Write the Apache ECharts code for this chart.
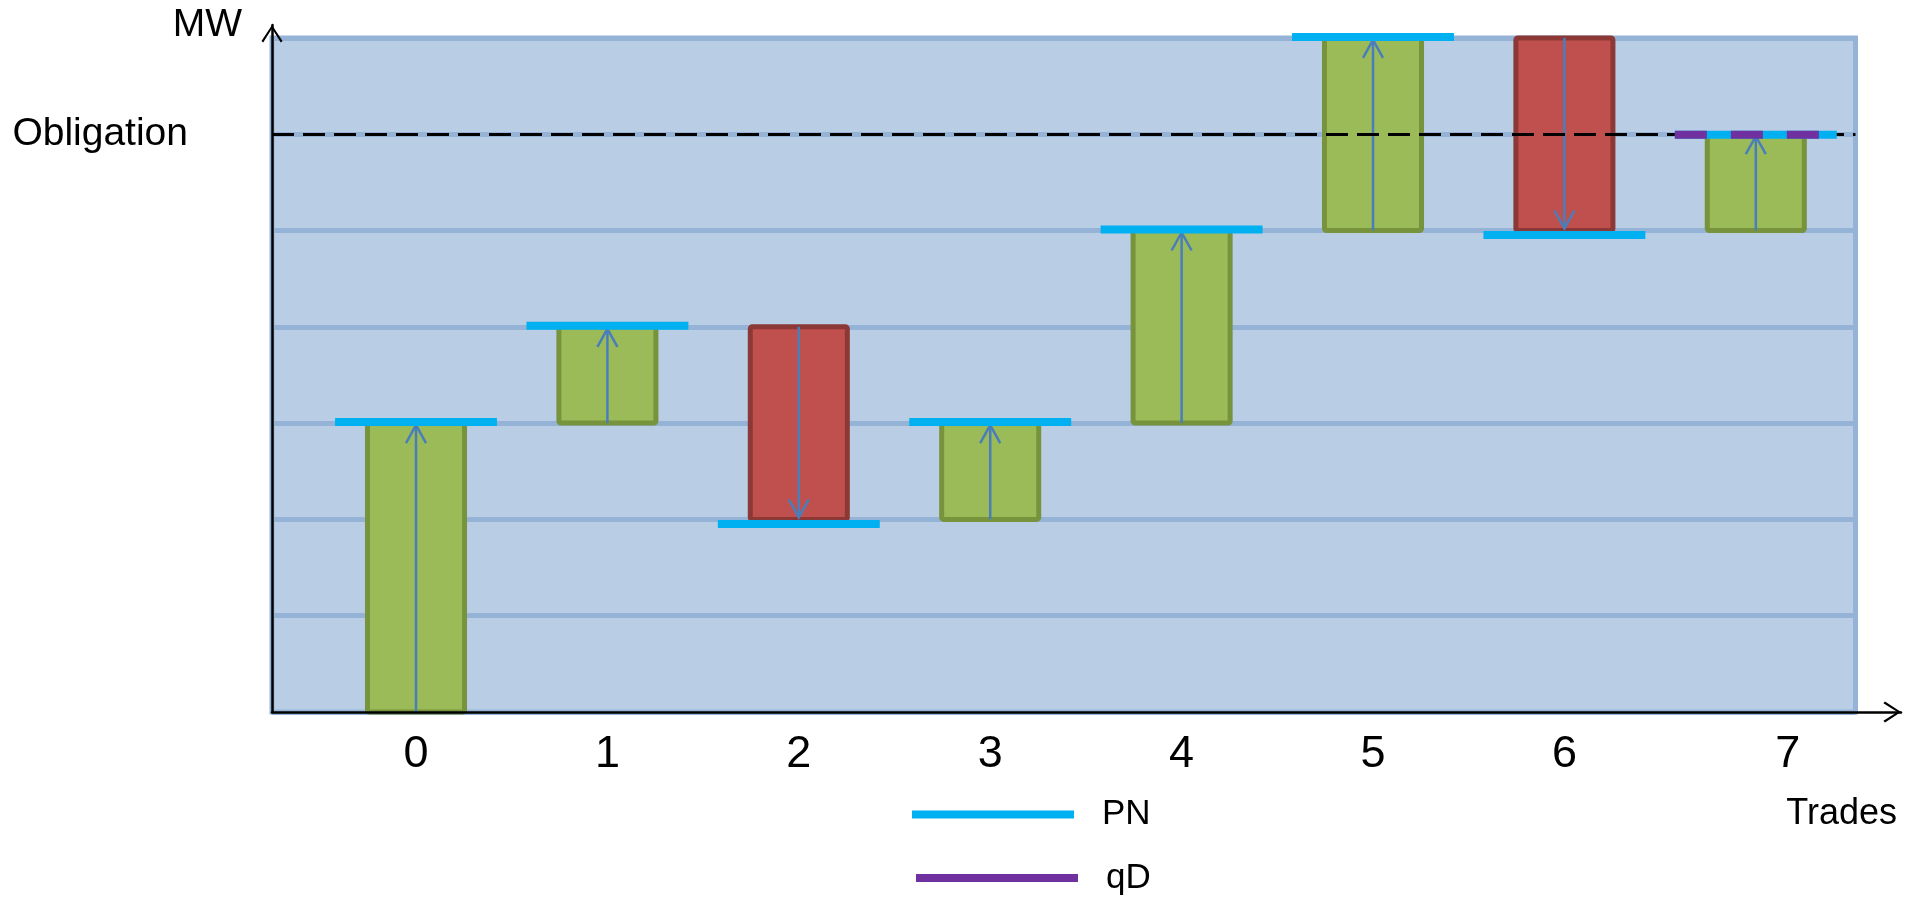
<!DOCTYPE html>
<html>
<head>
<meta charset="utf-8">
<script src="https://cdn.jsdelivr.net/npm/echarts@6/dist/echarts.min.js"></script>
<style>
html,body{margin:0;padding:0;background:#fff;}
#chart{width:1907px;height:897px;}
</style>
</head>
<body>
<div id="chart"></div>
<script>
// ---- data ----
const trades = [0, 1, 2, 3, 4, 5, 6, 7];
const tradeLabels = ['0', '1', '2', '3', '4', '5', '6', '7'];
const startMW = [0, 3, 4, 2, 3, 5, 7, 5];
const endMW   = [3, 4, 2, 3, 5, 7, 5, 6];
const pnMW    = [3, 4, 2, 3, 5, 7, 5, 6];
const qdTrades = [7];
const qdMW     = [6];
const obligationMW = 6;
const mwMax = 7;

const FONT = 'Liberation Sans';
const ARROW = 'path://M0,0 L10.5,16 L8.8,17.6 L0,3.6 L-8.8,17.6 L-10.5,16 Z';

const chart = echarts.init(document.getElementById('chart'), null, {renderer: 'canvas'});

function legendBox(name, left, top) {
  return {
    orient: 'vertical', left: left, top: top, padding: 0,
    itemWidth: 162, itemHeight: 8, icon: 'rect', selectedMode: false,
    textStyle: {fontSize: 35, lineHeight: 36, color: '#000', fontFamily: FONT, padding: [0, 0, 0, 23]},
    data: [name]
  };
}

const option = {
  animation: false,
  textStyle: {fontFamily: FONT},
  grid: [
    {left: 272, right: 6, top: 25, bottom: 185},
    {left: 320.3, width: 1531.2, top: 25, bottom: 185},
    {left: 272, right: 51.5, top: 37.9, bottom: 185, show: true,
     backgroundColor: '#B9CDE5', borderColor: '#95B3D7', borderWidth: 5}
  ],
  xAxis: [
    {type: 'value', gridIndex: 0, min: -0.7524, max: 7.7586, z: 10,
     axisLine: {show: true, onZero: false, symbol: ['none', ARROW], symbolSize: [21, 17.6], symbolOffset: [0, -8.8],
                lineStyle: {color: '#000', width: 2.5}},
     axisTick: {show: false}, axisLabel: {show: false}, splitLine: {show: false},
     name: 'Trades', nameLocation: 'end', nameGap: 0,
     nameTextStyle: {align: 'right', verticalAlign: 'top', padding: [84, 4, 0, 0], fontSize: 36, lineHeight: 36, color: '#000', fontFamily: FONT}},
    {type: 'category', gridIndex: 1, data: tradeLabels, boundaryGap: true,
     axisLine: {show: false}, axisTick: {show: false}, splitLine: {show: false},
     axisLabel: {interval: 0, fontSize: 45, lineHeight: 45, margin: 20.5, color: '#000', fontFamily: FONT,
       formatter: function (v, i) { return i === tradeLabels.length - 1 ? '{shift|' + v + '}' : v; },
       rich: {shift: {padding: [0, 0, 0, 64], fontSize: 45, lineHeight: 45, color: '#000', fontFamily: FONT}}}},
    {type: 'value', gridIndex: 2, min: 0, max: 1, show: false}
  ],
  yAxis: [
    {type: 'value', gridIndex: 0, min: 0, max: 7.134, z: 10,
     axisLine: {show: true, onZero: false, symbol: ['none', ARROW], symbolSize: [21, 17.6], symbolOffset: [0, -8.8],
                lineStyle: {color: '#000', width: 2.5}},
     axisTick: {show: false}, axisLabel: {show: false}, splitLine: {show: false},
     name: 'MW', nameLocation: 'end', nameGap: 0,
     nameTextStyle: {align: 'right', verticalAlign: 'middle', padding: [0, 30, 0, 0], fontSize: 39, color: '#000', fontFamily: FONT}},
    {type: 'value', gridIndex: 1, show: false, min: 0, max: 1},
    {type: 'value', gridIndex: 2, min: 0, max: mwMax, interval: 1,
     axisLine: {show: false}, axisTick: {show: false},
     splitLine: {show: true, lineStyle: {color: '#95B3D7', width: 5}},
     axisLabel: {show: true, margin: 84, fontSize: 39, color: '#000', fontFamily: FONT,
       formatter: function (v) { return v === obligationMW ? 'Obligation' : ''; }}}
  ],
  legend: [legendBox('PN', 912, 796.5), legendBox('qD', 916, 860)],
  series: [
    {
      name: 'ObligationLine', type: 'line', xAxisIndex: 2, yAxisIndex: 2, data: [], z: 3,
      markLine: {
        z: 3, silent: true, symbol: ['none', 'none'], label: {show: false},
        lineStyle: {color: '#000', type: [22, 9], width: 3},
        data: [{yAxis: obligationMW}]
      }
    },
    {
      name: 'Trades', type: 'custom', xAxisIndex: 0, yAxisIndex: 0, z: 2,
      data: trades.map(function (t, i) { return [t, startMW[i], endMW[i]]; }),
      encode: {x: 0, y: [1, 2]},
      renderItem: function (params, api) {
        const x = api.value(0), s = api.value(1), e = api.value(2);
        const p0 = api.coord([x, s]), p1 = api.coord([x, e]);
        const unit = api.size([1, 0])[0];
        const w = unit * 0.507;
        const up = e > s;
        const top = Math.min(p0[1], p1[1]);
        const h = Math.abs(p1[1] - p0[1]);
        const dir = up ? 1 : -1;
        const tipY = p1[1] + 2 * dir;
        return {
          type: 'group',
          children: [
            {type: 'rect', shape: {x: p0[0] - w / 2, y: top, width: w, height: h, r: 2},
             style: {fill: up ? '#9BBB59' : '#C0504D', stroke: up ? '#77933C' : '#8C3836', lineWidth: 5}},
            {type: 'line', shape: {x1: p0[0], y1: p0[1], x2: p0[0], y2: tipY},
             style: {stroke: '#4A7EBB', lineWidth: 2.5}},
            {type: 'polyline', shape: {points: [[p0[0] - 10, tipY + 18 * dir], [p0[0], tipY], [p0[0] + 10, tipY + 18 * dir]]},
             style: {stroke: '#4A7EBB', lineWidth: 2.5, fill: null}}
          ]
        };
      }
    },
    {
      name: 'PN', type: 'custom', xAxisIndex: 0, yAxisIndex: 0, z: 4,
      itemStyle: {color: '#00B0F0'},
      data: trades.map(function (t, i) { return [t, pnMW[i], startMW[i]]; }),
      encode: {x: 0, y: 1},
      renderItem: function (params, api) {
        const x = api.value(0), y = api.value(1), s = api.value(2);
        const p = api.coord([x, y]);
        const half = api.size([1, 0])[0] * 0.423;
        const off = y < s ? 4.5 : (x === 7 ? 0.5 : -1);
        return {type: 'line', shape: {x1: p[0] - half, y1: p[1] + off, x2: p[0] + half, y2: p[1] + off},
                style: {stroke: '#00B0F0', lineWidth: 8}};
      }
    },
    {
      name: 'qD', type: 'custom', xAxisIndex: 0, yAxisIndex: 0, z: 5,
      itemStyle: {color: '#7030A0'},
      data: qdTrades.map(function (t, i) { return [t, qdMW[i]]; }),
      encode: {x: 0, y: 1},
      renderItem: function (params, api) {
        const p = api.coord([api.value(0), api.value(1)]);
        const half = api.size([1, 0])[0] * 0.423;
        return {type: 'line', shape: {x1: p[0] - half, y1: p[1] + 0.5, x2: p[0] + half, y2: p[1] + 0.5},
                style: {stroke: '#7030A0', lineWidth: 8, lineDash: [32, 24]}};
      }
    }
  ]
};
chart.setOption(option);
</script>
</body>
</html>
